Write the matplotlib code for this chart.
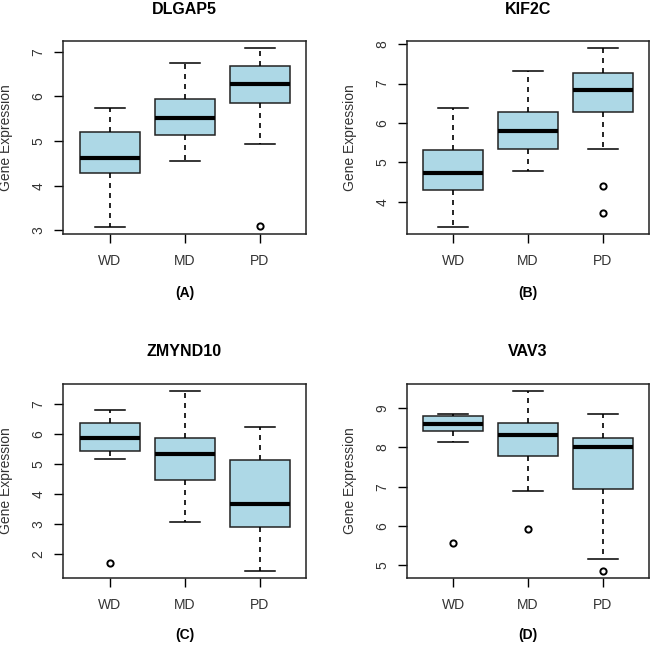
import matplotlib.pyplot as plt

plt.rcParams['font.family'] = ['Liberation Sans', 'DejaVu Sans']

groups = ['WD', 'MD', 'PD']

# five-number summaries per group: low whisker, Q1, median, Q3, high whisker
dlgap5_stats = [[3.08, 4.29, 4.63, 5.20, 5.74],
                [4.55, 5.14, 5.51, 5.95, 6.74],
                [4.94, 5.86, 6.28, 6.68, 7.08]]
dlgap5_out = [[], [], [3.09]]

kif2c_stats = [[3.36, 4.29, 4.73, 5.31, 6.39],
               [4.77, 5.33, 5.80, 6.27, 7.32],
               [5.34, 6.29, 6.83, 7.28, 7.90]]
kif2c_out = [[], [], [4.41, 3.70]]

zmynd10_stats = [[5.15, 5.44, 5.86, 6.35, 6.81],
                 [3.07, 4.47, 5.32, 5.86, 7.42],
                 [1.45, 2.90, 3.68, 5.12, 6.24]]
zmynd10_out = [[1.70], [], []]

vav3_stats = [[8.14, 8.42, 8.60, 8.79, 8.86],
              [6.90, 7.79, 8.32, 8.62, 9.43],
              [5.17, 6.94, 8.01, 8.23, 8.86]]
vav3_out = [[5.57], [5.92], [4.86]]

panels = [
    ('DLGAP5', '(A)', dlgap5_stats, dlgap5_out, [3, 4, 5, 6, 7]),
    ('KIF2C', '(B)', kif2c_stats, kif2c_out, [4, 5, 6, 7, 8]),
    ('ZMYND10', '(C)', zmynd10_stats, zmynd10_out, [2, 3, 4, 5, 6, 7]),
    ('VAV3', '(D)', vav3_stats, vav3_out, [5, 6, 7, 8, 9]),
]

W, H = 653, 646
fig = plt.figure(figsize=(W / 100, H / 100), dpi=100)

# axes boxes in pixels: left, top, right, bottom
boxes = [(63, 41, 306, 234), (407, 41, 649, 234),
         (63, 384, 306, 578), (407, 384, 649, 578)]
title_y = [9, 9, 352, 352]
label_y = [293, 293, 635, 635]

for (name, tag, stats, outs, yt), (l, t, r, b), ty, ly in zip(panels, boxes, title_y, label_y):
    ax = fig.add_axes([l / W, 1 - b / H, (r - l) / W, (b - t) / H])
    bxp = []
    for g, s, o in zip(groups, stats, outs):
        bxp.append({'label': g, 'whislo': s[0], 'q1': s[1], 'med': s[2],
                    'q3': s[3], 'whishi': s[4], 'fliers': o})
    ax.bxp(bxp, positions=[1, 2, 3], widths=0.8, patch_artist=True,
           boxprops=dict(facecolor='#ADD8E6', edgecolor='#222222', linewidth=1.1),
           medianprops=dict(color='black', linewidth=3),
           whiskerprops=dict(color='black', linestyle=(0, (3, 3)), linewidth=1.2),
           capprops=dict(color='black', linewidth=1.1),
           capwidths=0.4,
           flierprops=dict(marker='o', markersize=4.5, markerfacecolor='none',
                           markeredgecolor='black', markeredgewidth=1.4))
    # R style 4% axis extension
    lo = min([s[0] for s in stats] + [v for o in outs for v in o])
    hi = max([s[4] for s in stats] + [v for o in outs for v in o])
    pad = (hi - lo) * 0.04
    ax.set_ylim(lo - pad, hi + pad)
    ax.set_xlim(0.38, 3.62)
    ax.set_yticks(yt)
    ax.set_yticklabels([str(v) for v in yt], rotation=90, va='center')
    ax.set_xticks([1, 2, 3])
    ax.set_xticklabels(groups)
    ax.tick_params(direction='out', length=6.5, width=1.0, labelsize=10,
                   colors='black', labelcolor='#333333')
    ax.tick_params(axis='x', pad=8)
    ax.tick_params(axis='y', pad=6)
    for sp in ax.spines.values():
        sp.set_linewidth(1.1)
        sp.set_color('#222222')
    ax.set_ylabel('Gene Expression', fontsize=10, color='#333333')
    ax.yaxis.set_label_coords(-0.205, 0.5)
    cx = (l + r) / 2 / W
    fig.text(cx, 1 - ty / H, name, ha='center', va='center',
             fontsize=11.5, fontweight='bold')
    fig.text(cx, 1 - ly / H, tag, ha='center', va='center',
             fontsize=10, fontweight='bold')

fig.savefig('out.png', dpi=100, facecolor='white')
